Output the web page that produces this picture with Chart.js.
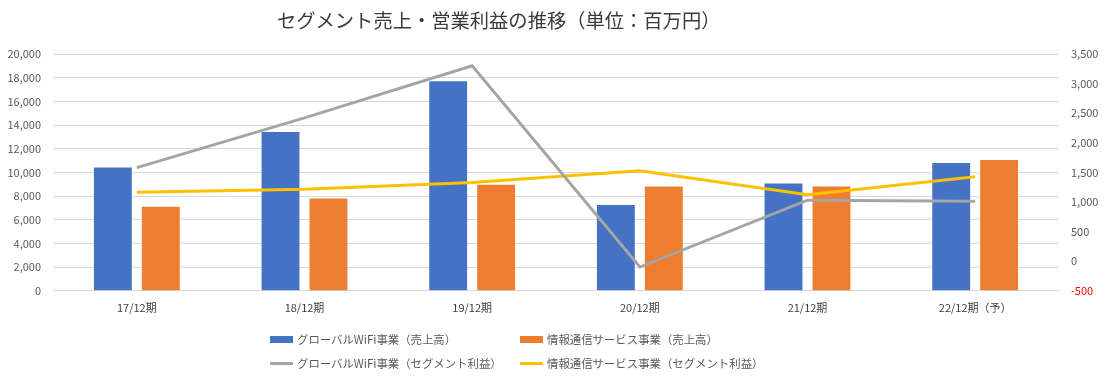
<!DOCTYPE html>
<html><head><meta charset="utf-8">
<script src="https://cdn.jsdelivr.net/npm/chart.js@4/dist/chart.umd.min.js"></script>
<style>
html,body{margin:0;padding:0;background:#fff;}
#wrap{position:relative;width:1118px;height:380px;font-family:"Noto Sans CJK JP","Noto Sans",sans-serif;}
#c{position:absolute;left:0;top:0;}
#title{position:absolute;left:277px;top:6px;font-size:19.3px;color:#3a3a3a;white-space:nowrap;line-height:28px;}
.lg{position:absolute;font-size:11.4px;color:#595959;white-space:nowrap;line-height:16px;display:flex;align-items:center;}
.sw{display:inline-block;width:23px;margin-right:4px;}
</style></head>
<body><div id="wrap"><canvas id="c" width="1118" height="380"></canvas>
<div id="title"></div>
<div id="legend"></div>
</div>
<script>
const chartTitle = "セグメント売上・営業利益の推移（単位：百万円）";
const categories = ["17/12期","18/12期","19/12期","20/12期","21/12期","22/12期（予）"];
const seriesNames = ["グローバルWiFi事業（売上高）","情報通信サービス事業（売上高）","グローバルWiFi事業（セグメント利益）","情報通信サービス事業（セグメント利益）"];
const wifiSales = [10400, 13400, 17700, 7250, 9050, 10800];
const infoSales = [7100, 7800, 8950, 8800, 8800, 11050];
const wifiProfit = [1580, 2420, 3300, -100, 1030, 1010];
const infoProfit = [1165, 1215, 1330, 1525, 1120, 1425];
const leftTicks = [0, 20000, 2000];
const rightTicks = [-500, 3500, 500];
const colors = ["#4472c4","#ed7d31","#a5a5a5","#ffc000"];

document.getElementById('title').textContent = chartTitle;
const legendPos = [[270,331,'box'],[520,331,'box'],[270,355,'line'],[520,355,'line']];
const lg = document.getElementById('legend');
seriesNames.forEach((n,i)=>{
  const d = document.createElement('div'); d.className='lg';
  d.style.left = legendPos[i][0]+'px'; d.style.top = legendPos[i][1]+'px';
  const s = document.createElement('span'); s.className='sw';
  s.style.background = colors[i]; s.style.height = legendPos[i][2]==='box' ? '7px' : '3px';
  d.appendChild(s); d.appendChild(document.createTextNode(n)); lg.appendChild(d);
});

const fmt = v => Number(v).toLocaleString('en-US');
const tickFont = {family:'"Noto Sans CJK JP","Noto Sans",sans-serif', size:11};
new Chart(document.getElementById('c'), {
  data: {
    labels: categories,
    datasets: [
      {type:'line', label:seriesNames[2], data:wifiProfit, yAxisID:'y1', borderColor:colors[2], backgroundColor:colors[2], borderWidth:3, pointRadius:0, tension:0, order:0},
      {type:'line', label:seriesNames[3], data:infoProfit, yAxisID:'y1', borderColor:colors[3], backgroundColor:colors[3], borderWidth:3, pointRadius:0, tension:0, order:0},
      {type:'bar', label:seriesNames[0], data:wifiSales, yAxisID:'y', backgroundColor:colors[0], categoryPercentage:0.572, barPercentage:0.79, order:1},
      {type:'bar', label:seriesNames[1], data:infoSales, yAxisID:'y', backgroundColor:colors[1], categoryPercentage:0.572, barPercentage:0.79, order:1}
    ]
  },
  options: {
    responsive:false, animation:false,
    layout:{padding:{top:54,left:0,right:0,bottom:0}},
    plugins:{legend:{display:false}, title:{display:false}, tooltip:{enabled:false}},
    scales:{
      x:{offset:true, grid:{display:false, drawTicks:false}, border:{color:'#d9d9d9'},
         ticks:{color:'#404040', font:tickFont, padding:11, maxRotation:0},
         afterFit:s=>{s.height=89.3;}},
      y:{position:'left', min:leftTicks[0], max:leftTicks[1],
         ticks:{stepSize:leftTicks[2], color:'#595959', font:tickFont, padding:12, callback:fmt},
         grid:{color:'#d9d9d9', drawTicks:false}, border:{display:false},
         afterFit:s=>{s.width=53;}},
      y1:{position:'right', min:rightTicks[0], max:rightTicks[1],
         ticks:{stepSize:rightTicks[2], font:tickFont, padding:12, callback:fmt,
                color:c=> (c.tick && c.tick.value<0) ? '#ff0000' : '#595959'},
         grid:{display:false, drawTicks:false}, border:{display:false},
         afterFit:s=>{s.width=59;}}
    }
  }
});
</script></body></html>
